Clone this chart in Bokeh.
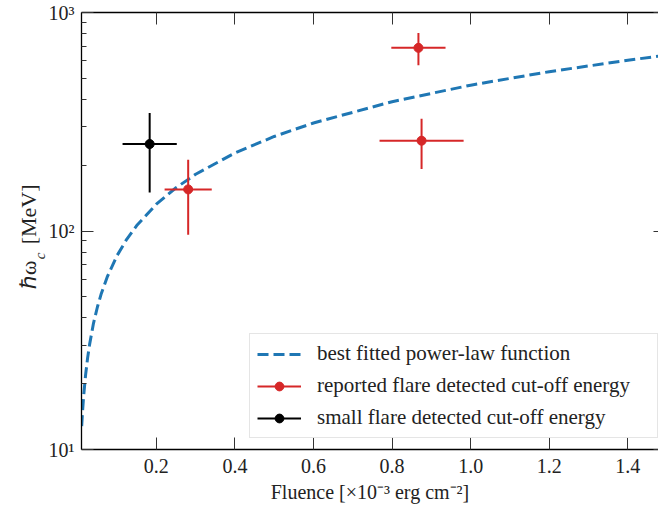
import numpy as np
from bokeh.plotting import figure
from bokeh.models import (FixedTicker, LinearAxis, LogAxis, Legend, LegendItem, Range1d)
from bokeh.embed import file_html
from bokeh.resources import INLINE

# ---------------- data ----------------
fit_x = [0.01, 0.0125, 0.015, 0.02, 0.025, 0.03, 0.04, 0.05, 0.06, 0.075, 0.1,
         0.125, 0.15, 0.2, 0.25, 0.3, 0.4, 0.5, 0.6, 0.8, 1.0, 1.2, 1.4, 1.48]
fit_y = [12.8, 15.2, 17.6, 22.0, 26.2, 30.2, 37.8, 44.9, 51.8, 61.6, 77.2,
         91.9, 105.9, 132.6, 157.7, 181.8, 227.5, 270.8, 312.2, 390.7, 465.0,
         536.0, 604.6, 631.4]

rep_x = [0.281, 0.867, 0.875]
rep_xerr = [0.060, 0.069, 0.107]
rep_y = [155, 689, 259]
rep_ylo = [96, 574, 192]
rep_yhi = [212, 805, 326]

small_x = [0.183]
small_xerr = [0.069]
small_y = [250]
small_ylo = [150]
small_yhi = [347]

x_ticks = [0.2, 0.4, 0.6, 0.8, 1.0, 1.2, 1.4]
x_tick_labels = ["0.2", "0.4", "0.6", "0.8", "1.0", "1.2", "1.4"]
y_ticks = [10, 100, 1000]
y_tick_labels = ["10¹", "10²", "10³"]
y_minor = [20, 30, 40, 50, 60, 70, 80, 90, 200, 300, 400, 500, 600, 700, 800, 900]

legend_labels = ["best fitted power-law function",
                 "reported flare detected cut-off energy",
                 "small flare detected cut-off energy"]
y_title_parts = ["ℏω", "c", "[MeV]"]

# ---------------- layout / style ----------------
FONT = "Liberation Serif"
BLUE = "#1f77b4"
RED = "#d62728"
BLACK = "#000000"
TXT = "#222222"

W, H = 658, 510
B_LEFT, B_TOP, B_BOTTOM = 80, 12, 61
X0, X1 = 0.0095, 1.478
Y0, Y1 = 10, 1000
FRAME_H = H - B_TOP - B_BOTTOM

def px_to_y(dy):
    """vertical pixel offset above the frame's bottom edge -> data y (log)"""
    return 10 ** (np.log10(Y0) + dy * (np.log10(Y1) - np.log10(Y0)) / FRAME_H)

p = figure(width=W, height=H, y_axis_type="log",
           x_range=Range1d(X0, X1), y_range=Range1d(Y0, Y1),
           output_backend="svg", toolbar_location=None,
           min_border_left=B_LEFT, min_border_right=0, min_border_top=B_TOP,
           min_border_bottom=B_BOTTOM)
p.grid.visible = False
p.outline_line_color = None
p.background_fill_color = "white"
p.border_fill_color = "white"

# axes
p.xaxis.ticker = FixedTicker(ticks=x_ticks)
p.xaxis.major_label_overrides = {t: l for t, l in zip(x_ticks, x_tick_labels)}
p.yaxis.ticker = FixedTicker(ticks=y_ticks, minor_ticks=y_minor)
p.yaxis.major_label_overrides = {t: l for t, l in zip(y_ticks, y_tick_labels)}

for ax in [p.xaxis[0], p.yaxis[0]]:
    ax.major_tick_in = 12
    ax.major_tick_out = 0
    ax.major_tick_line_color = "#333333"
    ax.major_tick_line_width = 1
    ax.axis_line_color = "black"
    ax.axis_line_width = 1.3
    ax.major_label_text_font = FONT
    ax.major_label_text_font_size = "20px"
    ax.major_label_text_color = TXT
p.xaxis.minor_tick_line_color = None
p.yaxis.minor_tick_in = 5
p.yaxis.minor_tick_out = 0
p.yaxis.minor_tick_line_color = "#333333"
p.xaxis.major_label_standoff = 9
p.yaxis.major_label_standoff = 7

p.xaxis.axis_label = "Fluence [×10⁻³ erg cm⁻²]"
p.xaxis.axis_label_text_font = FONT
p.xaxis.axis_label_text_font_style = "normal"
p.xaxis.axis_label_text_font_size = "20px"
p.xaxis.axis_label_text_color = TXT
p.xaxis.axis_label_standoff = 5

top = LinearAxis(ticker=FixedTicker(ticks=x_ticks), major_tick_in=12, major_tick_out=0,
                 major_tick_line_color="#333333", minor_tick_line_color=None,
                 major_label_overrides={t: "" for t in x_ticks}, major_label_standoff=0,
                 axis_line_color="black", axis_line_width=1.3)
p.add_layout(top, "above")
# the right spine lies just outside the picture: only the tips of its major ticks show
right = LogAxis(ticker=FixedTicker(ticks=y_ticks, minor_ticks=[]),
                major_tick_in=5, major_tick_out=0, minor_tick_in=0, minor_tick_out=0,
                major_tick_line_color="#333333", minor_tick_line_color=None,
                major_label_overrides={t: "" for t in y_ticks}, major_label_standoff=0,
                axis_line_color=None)
p.add_layout(right, "right")

# y-axis title "ℏω_c [MeV]": drawn as label-only axes so the subscript can sit lower
# (each label ends at its tick position)
def title_axis(pos_px, texts, size, standoff, style="normal"):
    ticks = [px_to_y(v) for v in pos_px]
    ax = LogAxis(ticker=FixedTicker(ticks=ticks, minor_ticks=[]),
                 major_label_overrides={t: s for t, s in zip(ticks, texts)},
                 major_label_orientation=np.pi / 2, major_label_standoff=standoff,
                 major_label_text_font=FONT, major_label_text_font_size=size,
                 major_label_text_font_style=style, major_label_text_color=TXT,
                 major_tick_line_color=None, minor_tick_line_color=None,
                 axis_line_color=None, major_tick_in=0, major_tick_out=0,
                 minor_tick_in=0, minor_tick_out=0)
    p.add_layout(ax, "left")

title_axis([197], [y_title_parts[1]], "15px", 6, "italic")
title_axis([189, 265], [y_title_parts[0], y_title_parts[2]], "22px", -8)

# fitted curve
r_fit = p.line(fit_x, fit_y, line_color=BLUE, line_width=3, line_dash="11 5")

# error bars + points
def errpoints(xs, xerr, ys, ylo, yhi, color):
    xa = np.array(xs, dtype=float)
    xe = np.array(xerr, dtype=float)
    p.segment(x0=xa - xe, y0=ys, x1=xa + xe, y1=ys, line_color=color, line_width=2)
    p.segment(x0=xs, y0=ylo, x1=xs, y1=yhi, line_color=color, line_width=2)
    p.scatter(xs, ys, size=9, fill_color=color, line_color=color)

errpoints(rep_x, rep_xerr, rep_y, rep_ylo, rep_yhi, RED)
errpoints(small_x, small_xerr, small_y, small_ylo, small_yhi, BLACK)

# legend glyph helpers (NaN position: never drawn in the plot, only in the legend)
def leg_marker(color):
    h = p.hspan(y=[np.nan], line_color=color, line_width=2)
    d = p.scatter(x=[np.nan], y=[np.nan], marker="circle", size=9, fill_color=color,
                  line_color=color)
    return [h, d]

legend = Legend(items=[
    LegendItem(label=legend_labels[0], renderers=[r_fit]),
    LegendItem(label=legend_labels[1], renderers=leg_marker(RED)),
    LegendItem(label=legend_labels[2], renderers=leg_marker(BLACK)),
], location=(168, 11), glyph_width=44, glyph_height=22, label_height=22,
    label_width=333, spacing=7, padding=7, label_standoff=16, margin=0,
    border_line_color="#cccccc", border_line_width=1, background_fill_alpha=0.85,
    label_text_font=FONT, label_text_font_size="21px", label_text_color=TXT)
p.add_layout(legend)

open("out.html", "w").write(file_html(p, INLINE))
